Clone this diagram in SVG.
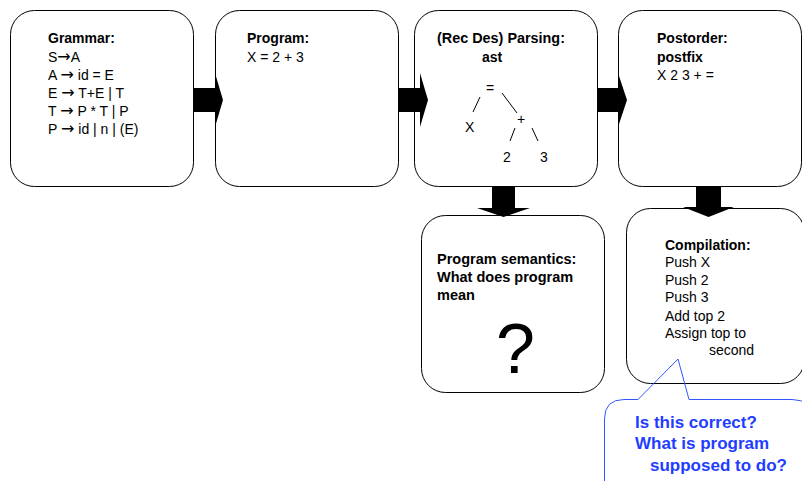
<svg xmlns="http://www.w3.org/2000/svg" width="802" height="481" viewBox="0 0 802 481">
<style>
.box{fill:#fff;stroke:#000;stroke-width:1}
.t{font-family:"Liberation Sans",Arial,sans-serif;font-size:14px;fill:#000}
.b{font-weight:bold}
.ar{font-family:"DejaVu Sans",sans-serif;font-size:16px}
.arr{fill:#000;stroke:none}
.tl{stroke:#000;stroke-width:1}
.call{fill:none;stroke:#3355ff;stroke-width:1}
.ct{font-family:"Liberation Sans",Arial,sans-serif;font-size:17px;font-weight:bold;fill:#1f3dff}
</style>
<rect width="802" height="481" fill="#fff"/>
<g id="grammar">
<rect class="box" x="10.5" y="10.5" width="183" height="176" rx="24"/>
<text class="t b" x="48" y="43">Grammar:</text>
<text class="t" x="48" y="62">S<tspan class="ar">→</tspan>A</text>
<text class="t" x="48" y="80">A <tspan class="ar">→</tspan> id = E</text>
<text class="t" x="48" y="98">E <tspan class="ar">→</tspan> T+E | T</text>
<text class="t" x="48" y="116">T <tspan class="ar">→</tspan> P * T | P</text>
<text class="t" x="48" y="134">P <tspan class="ar">→</tspan> id | n | (E)</text>
</g>
<g id="program">
<rect class="box" x="215.5" y="10.5" width="183" height="176" rx="24"/>
<text class="t b" x="247" y="43">Program:</text>
<text class="t" x="247" y="62">X = 2 + 3</text>
</g>
<g id="parsing">
<rect class="box" x="414.5" y="10.5" width="183" height="176" rx="24"/>
<text class="t b" x="437" y="43" style="font-size:14.4px">(Rec Des) Parsing:</text>
<text class="t b" x="482" y="62">ast</text>
<text class="t" x="486" y="93">=</text>
<line class="tl" x1="480" y1="97" x2="473" y2="112"/>
<line class="tl" x1="502" y1="93" x2="517" y2="113"/>
<text class="t" x="465" y="132">X</text>
<text class="t" x="517" y="124">+</text>
<line class="tl" x1="515" y1="128" x2="510" y2="141"/>
<line class="tl" x1="532" y1="128" x2="538" y2="141"/>
<text class="t" x="503" y="162">2</text>
<text class="t" x="540" y="162">3</text>
</g>
<g id="postorder">
<rect class="box" x="618.5" y="10.5" width="183" height="176" rx="24"/>
<text class="t b" x="657" y="43">Postorder:</text>
<text class="t b" x="657" y="62">postfix</text>
<text class="t" x="657" y="80">X 2 3 + =</text>
</g>
<g id="semantics">
<rect class="box" x="421.5" y="215.5" width="183" height="177" rx="24"/>
<text class="t b" x="437" y="264" style="font-size:14.5px">Program semantics:</text>
<text class="t b" x="437" y="282" style="font-size:14.5px">What does program</text>
<text class="t b" x="437" y="300" style="font-size:14.5px">mean</text>
<text class="t" x="496" y="373" style="font-size:70px">?</text>
</g>
<g id="compilation">
<rect class="box" x="626.5" y="208.5" width="178" height="175" rx="24"/>
<text class="t b" x="665" y="250">Compilation:</text>
<text class="t" x="665" y="267">Push X</text>
<text class="t" x="665" y="285">Push 2</text>
<text class="t" x="665" y="302">Push 3</text>
<text class="t" x="665" y="321">Add top 2</text>
<text class="t" x="665" y="338">Assign top to</text>
<text class="t" x="709" y="355">second</text>
</g>
<g id="connectors">
<polygon class="arr" points="193,88 215,88 215,73 223,100 215,127 215,112 193,112"/>
<polygon class="arr" points="398,88 420,88 420,73 428,100 420,127 420,112 398,112"/>
<polygon class="arr" points="597,88 618,88 618,73 627,100 618,127 618,112 597,112"/>
<polygon class="arr" points="492,186 492,208 477,208 503.5,217 530,208 515,208 515,186"/>
<polygon class="arr" points="696,186 696,207 683,207 708.5,217 734,207 721,207 721,186"/>
</g>
<g id="callout">
<path class="call" d="M604.5 419 Q604.5 399.5 624 399.5 L638 399.5 L678 359 L689 399.5 L792 399.5 Q812 399.5 812 419 L812 500 L604.5 500 Z"/>
<text class="ct" x="635" y="428">Is this correct?</text>
<text class="ct" x="635" y="449">What is program</text>
<text class="ct" x="650" y="471">supposed to do?</text>
</g>
</svg>
